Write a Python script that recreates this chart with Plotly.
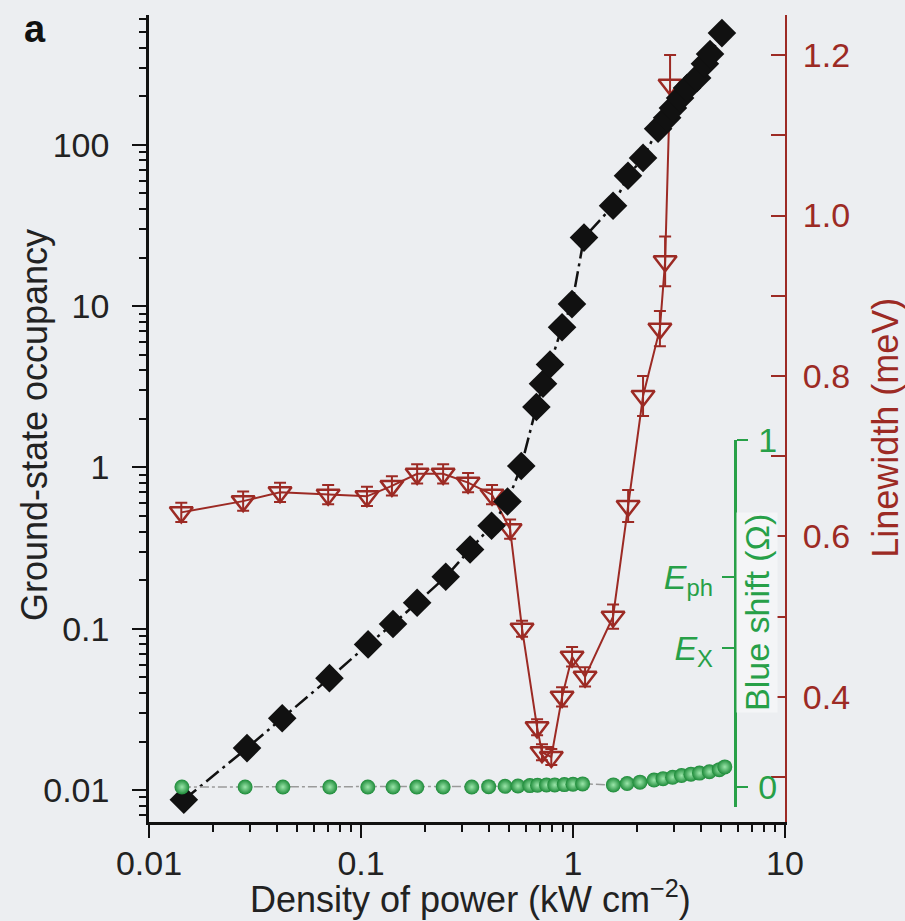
import plotly.graph_objects as go

# ---------------- data ----------------
power_occ = [0.0146, 0.0290, 0.0425, 0.0710, 0.108, 0.1416, 0.184, 0.251, 0.327, 0.413, 0.491,
             0.570, 0.672, 0.722, 0.779, 0.888, 0.989, 1.127, 1.545, 1.817, 2.14, 2.52, 2.78,
             2.96, 3.20, 3.45, 3.85, 4.19, 4.43, 5.04]
occupancy = [0.0087, 0.0182, 0.0279, 0.0494, 0.080, 0.107, 0.145, 0.210, 0.310, 0.435, 0.615,
             1.02, 2.37, 3.3, 4.35, 7.4, 10.3, 26.6, 41.9, 64.3, 83, 126, 147,
             169, 195, 225, 260, 318, 366, 493]

power_lw = [0.0142, 0.0278, 0.0415, 0.0700, 0.1067, 0.1399, 0.184, 0.244, 0.320, 0.415, 0.505,
            0.575, 0.677, 0.714, 0.79, 0.888, 0.99, 1.14, 1.545, 1.82, 2.14, 2.57, 2.72, 2.87]
linewidth = [0.630, 0.644, 0.655, 0.652, 0.650, 0.663, 0.678, 0.678, 0.667, 0.652, 0.609,
             0.485, 0.362, 0.331, 0.325, 0.400, 0.450, 0.425, 0.500, 0.638, 0.775, 0.859, 0.943, 1.163]
linewidth_err = [0.012, 0.012, 0.012, 0.012, 0.012, 0.012, 0.012, 0.012, 0.012, 0.012, 0.012,
                 0.010, 0.010, 0.010, 0.010, 0.012, 0.012, 0.012, 0.015, 0.020, 0.025, 0.022, 0.031, 0.037]

power_bs = [0.0143, 0.0284, 0.0428, 0.0713, 0.1077, 0.1416, 0.1833, 0.244, 0.333, 0.40, 0.478,
            0.55, 0.626, 0.68, 0.75, 0.82, 0.91, 1.0, 1.11, 1.55, 1.80, 2.07, 2.41, 2.66, 2.95,
            3.25, 3.6, 3.95, 4.4, 4.9, 5.2]
blueshift = [0.0, 0.0, 0.0, 0.0, 0.0, 0.0, 0.0, 0.0, 0.0, 0.001, 0.002,
             0.003, 0.004, 0.005, 0.006, 0.006, 0.007, 0.008, 0.009, 0.006, 0.010, 0.014, 0.020,
             0.024, 0.028, 0.033, 0.037, 0.040, 0.044, 0.050, 0.058]

x_ticks = [0.01, 0.1, 1, 10]
x_ticktext = ["0.01", "0.1", "1", "10"]
occ_ticks = [0.01, 0.1, 1, 10, 100]
occ_ticktext = ["0.01", "0.1", "1", "10", "100"]
lw_ticks = [0.4, 0.6, 0.8, 1.0, 1.2]
lw_ticktext = ["0.4", "0.6", "0.8", "1.0", "1.2"]
lw_minor = [0.3, 0.5, 0.7, 0.9, 1.1]
bs_ticks = [0, 1]
bs_ticktext = ["0", "1"]
energy_levels = [0.40, 0.605]
energy_labels = ["<i>E</i><sub>X</sub>", "<i>E</i><sub>ph</sub>"]

log_minor = [m * 10.0 ** e for e in range(-3, 3) for m in range(2, 10)]

RED = "#9c2a24"
GREEN = "#27a048"
BLACK = "#111111"
FONT = "Liberation Sans"
BG = "#eceef1"

fig = go.Figure()

fig.add_trace(go.Scatter(
    x=power_lw, y=linewidth, xaxis="x", yaxis="y", mode="lines+markers",
    line=dict(color=RED, width=2),
    marker=dict(symbol="triangle-down-open", size=20, color=RED, line=dict(width=2.5, color=RED)),
    error_y=dict(type="data", array=linewidth_err, color=RED, thickness=2, width=6),
    showlegend=False, hoverinfo="skip"))

fig.add_trace(go.Scatter(
    x=power_occ, y=occupancy, xaxis="x", yaxis="y2", mode="lines+markers",
    line=dict(color=BLACK, width=2.5, dash="16px,5px,3px,5px"),
    marker=dict(symbol="diamond", size=22, color=BLACK),
    showlegend=False, hoverinfo="skip"))

fig.add_trace(go.Scatter(
    x=power_bs, y=blueshift, xaxis="x", yaxis="y3", mode="lines+markers",
    line=dict(color="#9a9a9a", width=1.5, dash="dashdot"),
    marker=dict(symbol="circle", size=15, color="#1c8a38",
                gradient=dict(type="radial", color="#9be6aa"), line=dict(width=0)),
    showlegend=False, hoverinfo="skip"))

fig.add_trace(go.Scatter(x=[], y=[], xaxis="x", yaxis="y4", showlegend=False, hoverinfo="skip"))

tickfont_black = dict(family=FONT, size=34, color="#222222")

fig.update_layout(
    width=905, height=921,
    margin=dict(l=149, r=120, t=15, b=99, autoexpand=False),
    paper_bgcolor=BG, plot_bgcolor="rgba(0,0,0,0)",
    font=dict(family=FONT),
    xaxis=dict(type="log", range=[-2, 1], domain=[0, 1], anchor="y", automargin=False,
               tickvals=x_ticks, ticktext=x_ticktext, ticks="outside", ticklen=13, tickwidth=2,
               tickcolor=BLACK, showline=True, linewidth=2.5, linecolor=BLACK,
               showgrid=False, zeroline=False, tickfont=tickfont_black, ticklabelstandoff=-4,
               minor=dict(tickvals=log_minor, ticks="outside", ticklen=7, tickwidth=1.5,
                          tickcolor=BLACK, showgrid=False)),
    yaxis=dict(range=[0.244, 1.25], side="right", anchor="x", automargin=False,
               tickvals=lw_ticks, ticktext=lw_ticktext, ticks="inside", ticklen=14, tickwidth=2,
               tickcolor=RED, showline=True, linewidth=2, linecolor=RED,
               showgrid=False, zeroline=False, ticklabelstandoff=9,
               tickfont=dict(family=FONT, size=34, color=RED),
               minor=dict(tickvals=lw_minor, ticks="inside", ticklen=14, tickwidth=2,
                          tickcolor=RED, showgrid=False)),
    yaxis2=dict(type="log", range=[-2.198, 2.805], overlaying="y", side="left", anchor="x",
                automargin=False,
                tickvals=occ_ticks, ticktext=occ_ticktext, ticks="outside", ticklen=14, tickwidth=2,
                tickcolor=BLACK, showline=True, linewidth=2.5, linecolor=BLACK,
                showgrid=False, zeroline=False, tickfont=tickfont_black, ticklabelstandoff=16,
                minor=dict(tickvals=log_minor, ticks="outside", ticklen=7, tickwidth=1.5,
                           tickcolor=BLACK, showgrid=False)),
    yaxis3=dict(domain=[0.0186, 0.4734], anchor="free", position=0.921, side="right",
                automargin=False,
                range=[-0.0576, 1.0], tickvals=bs_ticks, ticktext=bs_ticktext,
                ticks="outside", ticklen=11, tickwidth=2, tickcolor=GREEN,
                showline=True, linewidth=2.5, linecolor=GREEN, showgrid=False, zeroline=False,
                tickfont=dict(family=FONT, size=34, color=GREEN), ticklabelstandoff=4),
    yaxis4=dict(overlaying="y3", anchor="free", position=0.921, side="left", automargin=False,
                range=[-0.0576, 1.0], tickvals=energy_levels, ticktext=energy_labels,
                ticks="outside", ticklen=13, tickwidth=2, tickcolor=GREEN,
                showline=False, showgrid=False, zeroline=False,
                tickfont=dict(family=FONT, size=34, color=GREEN), ticklabelstandoff=2),
)

ann = [
    dict(text="<b>a</b>", x=-0.179, y=0.983, font=dict(size=38, color=BLACK)),
    dict(text="Density of power (kW cm<sup>−2</sup>)", x=0.505, y=-0.093,
         font=dict(size=36, color="#222222")),
    dict(text="Ground-state occupancy", x=-0.179, y=0.492, textangle=-90,
         font=dict(size=36, color="#222222")),
    dict(text="Linewidth (meV)", x=1.158, y=0.489, textangle=-90,
         font=dict(size=36, color=RED)),
    dict(text="Blue shift (Ω)", x=0.956, y=0.259, textangle=-90,
         font=dict(size=34, color=GREEN), bgcolor="#f4f5f7"),
]
for a in ann:
    a.update(xref="paper", yref="paper", showarrow=False, xanchor="center", yanchor="middle")
    a["font"]["family"] = FONT
    fig.add_annotation(**a)

fig.write_html("out.html", config={"displayModeBar": False},
               post_script="document.body.style.margin='0';document.body.style.overflow='hidden';")
